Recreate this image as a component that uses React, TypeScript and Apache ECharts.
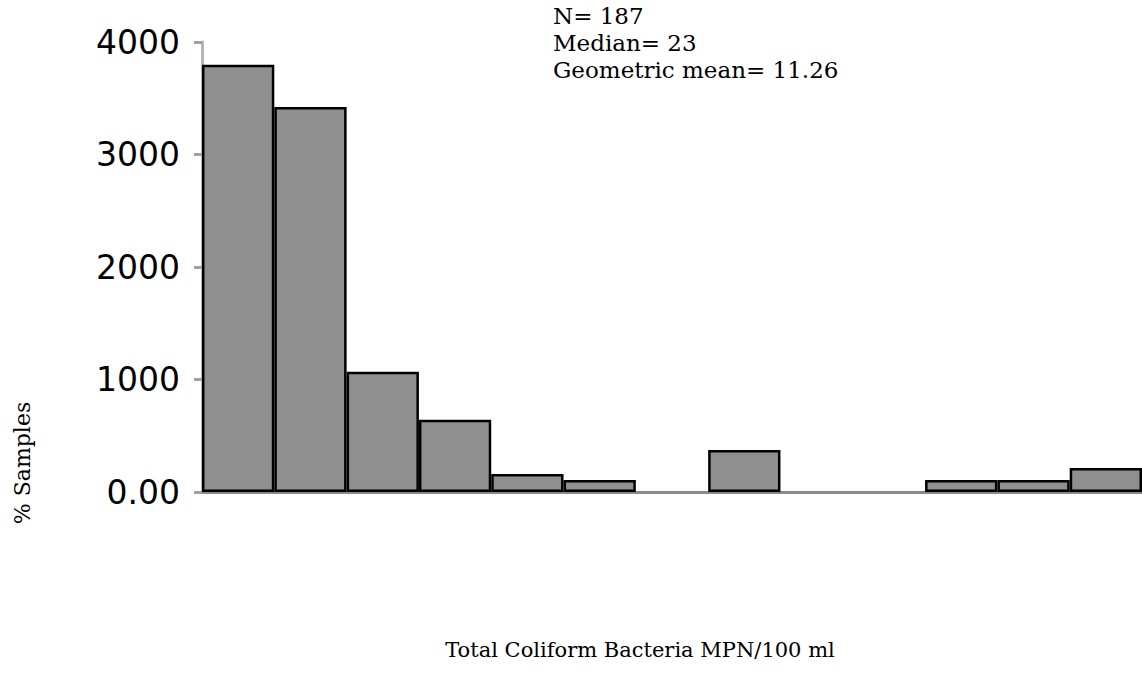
import React, { useEffect, useRef } from "react";
import * as echarts from "echarts";

const categories = ["1", "2", "3", "4", "5", "6", "7", "8", "9", "10", "11", "12", "13"];
const percentSamples = [37.97, 34.22, 10.7, 6.42, 1.6, 1.07, 0, 3.74, 0, 0, 1.07, 1.07, 2.14];
const yTickLabels = ["0.00", "1000", "2000", "3000", "4000"];
const statsLines = ["N= 187", "Median= 23", "Geometric mean= 11.26"];
const xAxisTitle = "Total Coliform Bacteria MPN/100 ml";
const yAxisTitle = "% Samples";

export default function App() {
  const ref = useRef<HTMLDivElement>(null);
  useEffect(() => {
    if (!ref.current) return;
    const chart = echarts.init(ref.current, null, { renderer: "svg" });
    const serif = "'DejaVu Serif', 'Liberation Serif', serif";
    chart.setOption({
      animation: false,
      backgroundColor: "#ffffff",
      grid: { left: 202, top: 42, bottom: 193, right: -16, containLabel: false },
      xAxis: {
        type: "category",
        data: categories,
        boundaryGap: true,
        axisLine: { show: true, lineStyle: { color: "#8a8a8a", width: 3 } },
        axisTick: { show: false },
        axisLabel: { show: false },
        splitLine: { show: false },
      },
      yAxis: {
        type: "value",
        min: 0,
        max: 40,
        interval: 10,
        axisLine: { show: true, lineStyle: { color: "#b5b5b5", width: 3 } },
        axisTick: { show: true, inside: false, length: 8, lineStyle: { color: "#a0a0a0", width: 3 } },
        splitLine: { show: false },
        axisLabel: {
          margin: 22,
          color: "#000000",
          fontFamily: "'DejaVu Sans', Verdana, sans-serif",
          fontSize: 33,
          formatter: (v: number) => yTickLabels[Math.round(v / 10)] ?? String(v),
        },
      },
      series: [
        {
          type: "bar",
          data: percentSamples.map((v) =>
            v === 0 ? { value: v, itemStyle: { borderWidth: 0 } } : v
          ),
          barCategoryGap: "0%",
          itemStyle: { color: "#8f8f8f", borderColor: "#000000", borderWidth: 2.5 },
        },
      ],
      graphic: [
        ...statsLines.map((line, i) => ({
          type: "text",
          x: 553,
          y: 16 + i * 27,
          style: {
            text: line,
            font: `23px ${serif}`,
            fill: "#000000",
            verticalAlign: "middle",
          },
        })),
        {
          type: "text",
          x: 640,
          y: 650,
          style: {
            text: xAxisTitle,
            font: `21px ${serif}`,
            fill: "#000000",
            align: "center",
            verticalAlign: "middle",
          },
        },
        {
          type: "text",
          x: 22,
          y: 463,
          rotation: Math.PI / 2,
          style: {
            text: yAxisTitle,
            font: `22px ${serif}`,
            fill: "#000000",
            align: "center",
            verticalAlign: "middle",
          },
        },
      ],
    });
    return () => chart.dispose();
  }, []);
  return (
    <div
      ref={ref}
      style={{ position: "absolute", left: 0, top: 0, width: 1142, height: 685 }}
    />
  );
}
